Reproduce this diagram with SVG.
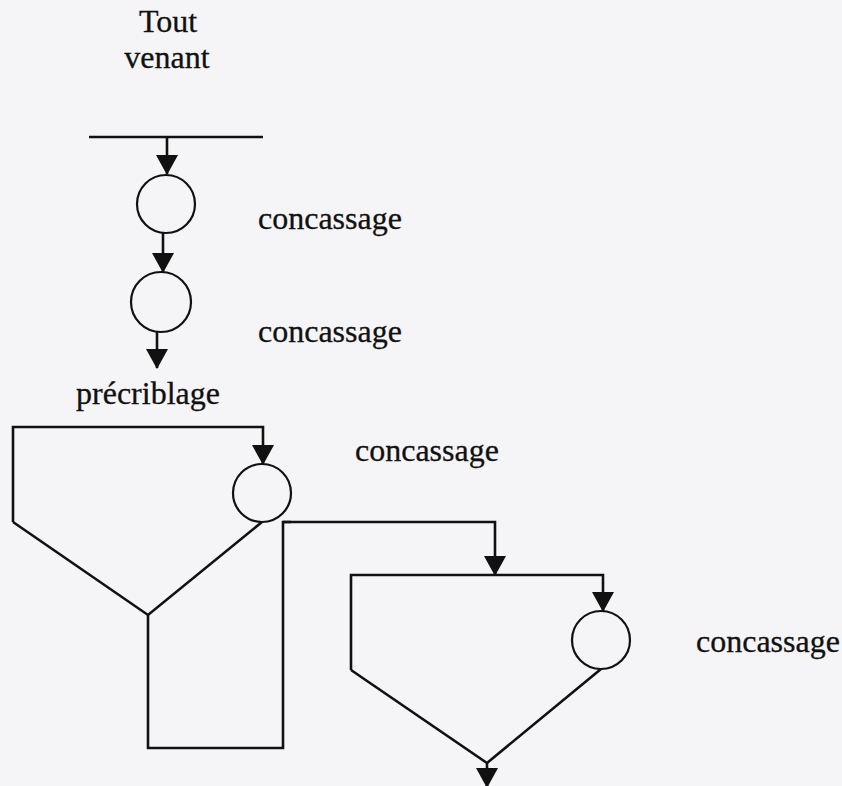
<svg xmlns="http://www.w3.org/2000/svg" width="842" height="786" viewBox="0 0 842 786">
  <style>
    .bg { fill: #f5f5f7; }
    .lbl { font-family: "Liberation Serif", "Times New Roman", serif; font-size: 32px; fill: #111; stroke: #111; stroke-width: 0.3; }
    .crusher { fill: none; stroke: #111; stroke-width: 2.2; }
    .flow { fill: none; stroke: #111; stroke-width: 2.6; stroke-linejoin: miter; }
    .flow-arrow { fill: none; stroke: #111; stroke-width: 2.6; marker-end: url(#head); }
  </style>
  <defs>
    <marker id="head" markerUnits="userSpaceOnUse" viewBox="0 0 20 22" markerWidth="20" markerHeight="22" refX="19" refY="11" orient="auto">
      <path d="M0,0 L20,11 L0,22 z" fill="#111"/>
    </marker>
  </defs>

  <rect class="bg" x="0" y="0" width="842" height="786"/>

  <!-- raw feed -->
  <g id="feed">
    <text class="lbl" x="168" y="32" text-anchor="middle">Tout</text>
    <text class="lbl" x="167" y="68" text-anchor="middle">venant</text>
    <line class="flow" x1="89" y1="137" x2="263" y2="137"/>
  </g>

  <!-- primary crusher -->
  <g id="crusher1">
    <circle class="crusher" cx="166" cy="204" r="29"/>
    <text class="lbl" x="258" y="229">concassage</text>
  </g>

  <!-- secondary crusher -->
  <g id="crusher2">
    <circle class="crusher" cx="161" cy="302" r="30"/>
    <text class="lbl" x="258" y="342">concassage</text>
  </g>

  <!-- pre-screening -->
  <g id="prescreen">
    <text class="lbl" x="148" y="404" text-anchor="middle">précriblage</text>
  </g>

  <!-- tertiary crusher -->
  <g id="crusher3">
    <circle class="crusher" cx="262" cy="493" r="29"/>
    <text class="lbl" x="355" y="461">concassage</text>
  </g>

  <!-- quaternary crusher -->
  <g id="crusher4">
    <circle class="crusher" cx="601" cy="640" r="29"/>
    <text class="lbl" x="696" y="652">concassage</text>
  </g>

  <!-- flow lines -->
  <g id="connectors">
    <line class="flow-arrow" x1="167" y1="137" x2="167" y2="174"/>
    <line class="flow-arrow" x1="163" y1="233" x2="163" y2="272"/>
    <line class="flow-arrow" x1="157" y1="332" x2="157" y2="368"/>

    <!-- first closed circuit -->
    <polyline class="flow-arrow" points="13,522 13,427 263,427 263,464"/>
    <polyline class="flow" points="13,522 148,615 262,522"/>
    <polyline class="flow" points="148,615 148,748 283,748 283,522 291,522"/>
    <polyline class="flow-arrow" points="283,522 495,522 495,575"/>

    <!-- second closed circuit -->
    <polyline class="flow-arrow" points="351,670 351,575 603,575 603,611"/>
    <polyline class="flow" points="351,670 487,763 601,669"/>
    <line class="flow-arrow" x1="487" y1="763" x2="487" y2="787"/>
  </g>
</svg>
